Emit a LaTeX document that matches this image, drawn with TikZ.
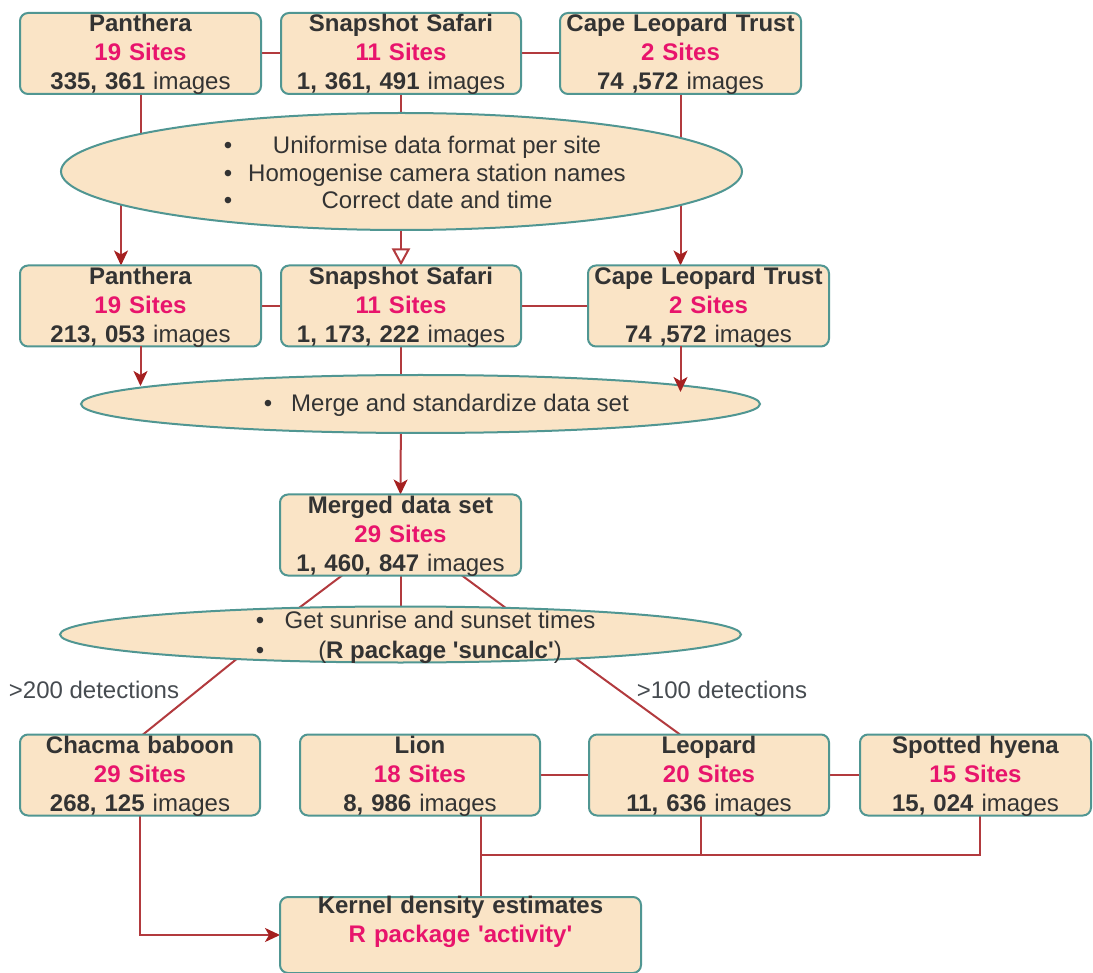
\documentclass[tikz,border=0pt]{standalone}
\usepackage{fontspec}
\setmainfont{Liberation Sans}
\usetikzlibrary{shapes.geometric,arrows.meta}
\definecolor{boxfill}{RGB}{250,228,198}
\definecolor{boxline}{RGB}{80,150,146}
\definecolor{connc}{RGB}{178,58,62}
\definecolor{tipc}{RGB}{165,32,32}
\definecolor{pinkc}{RGB}{232,20,108}
\definecolor{txt}{RGB}{51,51,51}
\definecolor{lbl}{RGB}{70,75,80}
\pgfdeclarelayer{bg}
\pgfsetlayers{bg,main}
\newcommand\sq{\textquotesingle}
\newcommand\boxtxt[3]{\textbf{#1}\\{\color{pinkc}\textbf{#2}}\\\textbf{#3} images}
\begin{document}
\begin{tikzpicture}[x=1pt,y=-1pt,
  every node/.style={text=txt,font=\fontsize{24}{29}\selectfont},
  databox/.style={draw=boxline,fill=boxfill,line width=2pt,rounded corners=8pt,
    inner sep=0pt,outer sep=0pt,align=center,text width=#1,text height=19pt,text depth=62pt},
  ell/.style={ellipse,draw=boxline,fill=boxfill,line width=2pt,inner sep=0pt,outer sep=0pt},
  etext/.style={anchor=base,inner sep=0pt},
  conn/.style={draw=connc,line width=2pt},
  arr/.style={conn,-{Stealth[length=15pt,width=14pt,inset=4pt,color=tipc]}},
  openarr/.style={conn,-{Triangle[open,length=17pt,width=18pt]}}]
\useasboundingbox (0,0) rectangle (1093,973);

% row 1
\node[databox=241pt] (P1) at (140.5,53.5) {\boxtxt{Panthera}{19 Sites}{335, 361}};
\node[databox=240pt] (S1) at (401,53.5) {\boxtxt{Snapshot Safari}{11 Sites}{1, 361, 491}};
\node[databox=241pt] (C1) at (680.5,53.5) {\boxtxt{Cape Leopard Trust}{2 Sites}{74 ,572}};

% ellipse 1
\node[ell,minimum width=681pt,minimum height=117pt] (E1) at (401.5,171.5) {};
\node[etext] (E1a) at (437,154) {Uniformise data format per site};
\node[etext] (E1b) at (437,182) {Homogenise camera station names};
\node[etext] (E1c) at (437,209) {Correct date and time};
\node[etext] (E1d) at (228,154) {\textbullet};
\node[etext] (E1e) at (228,182) {\textbullet};
\node[etext] (E1f) at (228,209) {\textbullet};

% row 2
\node[databox=241pt] (P2) at (140.5,306) {\boxtxt{Panthera}{19 Sites}{213, 053}};
\node[databox=240pt] (S2) at (401,306) {\boxtxt{Snapshot Safari}{11 Sites}{1, 173, 222}};
\node[databox=241pt] (C2) at (708.5,306) {\boxtxt{Cape Leopard Trust}{2 Sites}{74 ,572}};

% ellipse 2
\node[ell,minimum width=679pt,minimum height=58pt] (E2) at (420.5,404) {};
\node[etext] (E2a) at (460,412) {Merge and standardize data set};
\node[etext] (E2b) at (268,412) {\textbullet};

% merged
\node[databox=241pt] (M) at (400.5,535) {\boxtxt{Merged data set}{29 Sites}{1, 460, 847}};

% ellipse 3
\node[ell,minimum width=681pt,minimum height=56pt] (E3) at (400.5,634.5) {};
\node[etext] (E3a) at (440,628) {Get sunrise and sunset times};
\node[etext] (E3b) at (440,658) {(\textbf{R package \sq suncalc\sq})};
\node[etext] (E3c) at (260,628) {\textbullet};
\node[etext] (E3d) at (260,658) {\textbullet};

% labels
\node[etext,text=lbl] (L200) at (94,698) {>200 detections};
\node[etext,text=lbl] (L100) at (722,698) {>100 detections};

% row 3
\node[databox=240pt] (Ch) at (140,775) {\boxtxt{Chacma baboon}{29 Sites}{268, 125}};
\node[databox=240pt] (Li) at (420,775) {\boxtxt{Lion}{18 Sites}{8, 986}};
\node[databox=240pt] (Le) at (709,775) {\boxtxt{Leopard}{20 Sites}{11, 636}};
\node[databox=231pt] (Hy) at (975.5,775) {\boxtxt{Spotted hyena}{15 Sites}{15, 024}};

% kernel
\node[databox=361pt,text height=16pt,text depth=60pt] (K) at (460.5,935) {\textbf{Kernel density estimates}\\{\color{pinkc}\textbf{R package \sq activity\sq}}};

% helper coordinates
\coordinate (p2e) at (140.5,386);
\coordinate (c2e) at (680.5,392);
\coordinate (m3l) at (283,620);
\coordinate (m3r) at (522,620);
\coordinate (e3ch) at (254,645);
\coordinate (e3le) at (557,645);
\coordinate (jn) at (481,855);

\begin{pgfonlayer}{bg}
\draw[conn] (P1.east) -- (S1.west);
\draw[conn] (S1.east) -- (C1.west);
\draw[conn] (P1.south) -- (P1.south |- E1.center);
\draw[conn] (S1.south) -- (S1.south |- E1.center);
\draw[conn] (C1.south) -- (C1.south |- E1.center);
\draw[arr] ([xshift=-19.5pt]P2.north |- E1.center) -- ([xshift=-19.5pt]P2.north);
\draw[openarr] (S1.south |- E1.south) -- (S2.north);
\draw[arr] (C1.south |- E1.center) -- (C1.south |- C2.north);
\draw[conn] (P2.east) -- (S2.west);
\draw[conn] (S2.east) -- (C2.west);
\draw[conn] (S2.south) -- (S2.south |- E2.center);
\draw[arr] (S2.south |- E2.center) -- (M.north);
\draw[conn] ([xshift=-58.5pt]M.south) -- (m3l);
\draw[conn] (M.south) -- (M.south |- E3.center);
\draw[conn] ([xshift=61.5pt]M.south) -- (m3r);
\draw[conn] (e3ch) -- ([xshift=3pt]Ch.north);
\draw[conn] (e3le) -- ([xshift=-29pt]Le.north);
\draw[conn] (Li.east) -- (Le.west);
\draw[conn] (Le.east) -- (Hy.west);
\draw[arr] (Ch.south) |- (K.west);
\draw[conn] ([xshift=61pt]Li.south) -- ([xshift=20.5pt]K.north);
\draw[conn] ([xshift=-8pt]Le.south) |- (jn);
\draw[conn] ([xshift=4.5pt]Hy.south) |- (jn);
\end{pgfonlayer}

\draw[arr] (P2.south) -- (p2e);
\draw[arr] ([xshift=-28pt]C2.south) -- (c2e);
\end{tikzpicture}
\end{document}
